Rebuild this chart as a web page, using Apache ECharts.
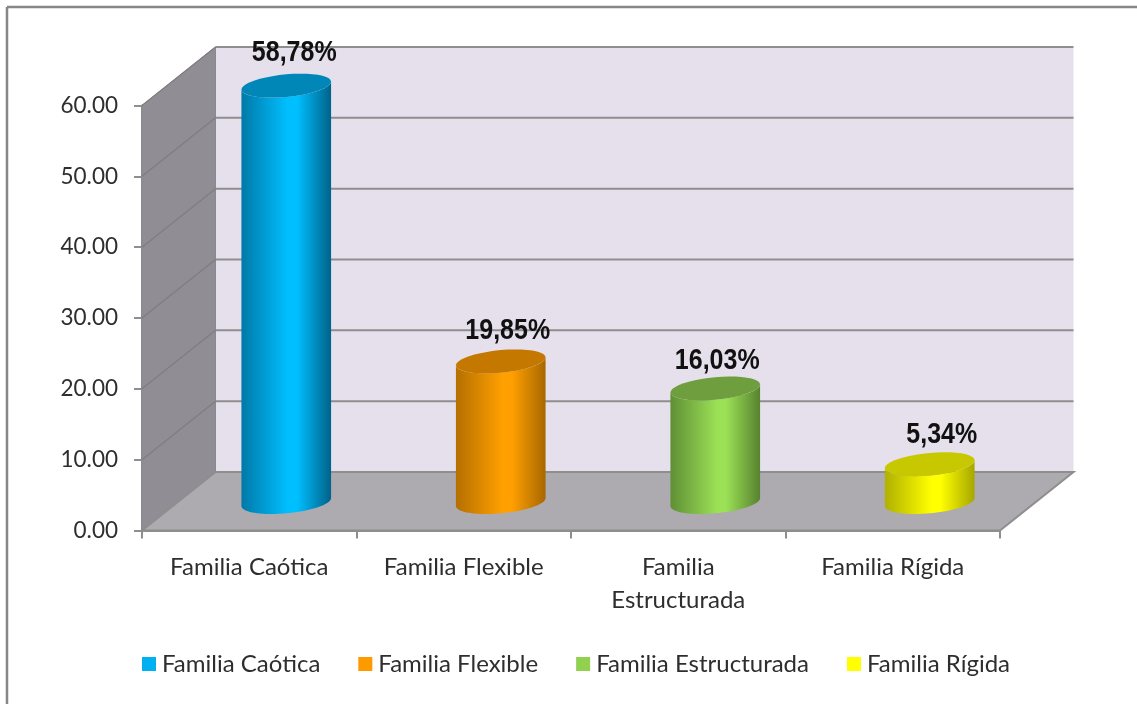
<!DOCTYPE html>
<html>
<head>
<meta charset="utf-8">
<title>Familia</title>
<script src="https://cdn.jsdelivr.net/npm/echarts@6/dist/echarts.min.js"></script>
<style>
  html, body { margin: 0; padding: 0; background: #fff; }
  #chart { width: 1137px; height: 704px; }
</style>
</head>
<body>
<div id="chart"></div>
<script>
const categories = ["Familia Caótica", "Familia Flexible", "Familia\nEstructurada", "Familia Rígida"];
const legendNames = ["Familia Caótica", "Familia Flexible", "Familia Estructurada", "Familia Rígida"];
const values = [58.78, 19.85, 16.03, 5.34];
const valueTicks = [0, 10, 20, 30, 40, 50, 60];

// body colours: edge, middle, far edge, cap, legend
const palette = [
  { left: "#0079A8", mid: "#00BFFF", right: "#00628A", cap: "#0087B8", legend: "#00B0F0" },
  { left: "#B56F00", mid: "#FFA000", right: "#A86700", cap: "#C47800", legend: "#FF9900" },
  { left: "#5F8F35", mid: "#9BE055", right: "#57822F", cap: "#6F9E3E", legend: "#92D050" },
  { left: "#B0B000", mid: "#FFFF00", right: "#A6A600", cap: "#C8C800", legend: "#FFFF00" }
];
// hand placed labels in the original, not centred on the bars
const labelShift = [[8, -32.5], [7, -30.5], [2, -27.5], [12, -29.5]];

const depthX = 73.5;
const depthY = -58.5;

const gridStroke = "#8E8E8E";

function wallsItem(params, api) {
  const o = api.coord([0, 0]);
  o[0] = params.coordSys.x;
  const top = params.coordSys.y;
  const right = params.coordSys.x + params.coordSys.width;
  const left = o[0];
  const base = o[1];
  return {
    type: "group",
    children: [
      {
        type: "polygon",
        shape: { points: [[left + depthX, top + depthY], [right + depthX, top + depthY], [right + depthX, base + depthY], [left + depthX, base + depthY]] },
        style: { fill: "#E6E0EC" }
      },
      {
        type: "polygon",
        shape: { points: [[left, top], [left + depthX, top + depthY], [left + depthX, base + depthY], [left, base]] },
        style: { fill: "#908D94", stroke: "#8A8A8A", lineWidth: 1 }
      },
      {
        type: "polygon",
        shape: { points: [[left, base], [left + depthX, base + depthY], [right + depthX, base + depthY], [right, base]] },
        style: { fill: "#ADAAB0", stroke: "#8E8E8E", lineWidth: 2 }
      }
    ]
  };
}

function gridLineItem(params, api) {
  const y = api.coord([0, api.value(0)])[1];
  const left = params.coordSys.x;
  const right = left + params.coordSys.width;
  return {
    type: "group",
    children: [
      {
        type: "line",
        shape: { x1: left + depthX, y1: y + depthY, x2: right + depthX, y2: y + depthY },
        style: { stroke: gridStroke, lineWidth: 2 }
      },
      {
        type: "line",
        shape: { x1: left, y1: y, x2: left + depthX, y2: y + depthY },
        style: { stroke: "#7F7D82", lineWidth: 1.2 }
      }
    ]
  };
}

function ellipsePoints(cx, cy, a, from, to) {
  const pts = [];
  const steps = 40;
  for (let i = 0; i <= steps; i++) {
    const t = from + (to - from) * i / steps;
    pts.push([cx + a * Math.cos(t), cy - 4 * Math.cos(t) - 11.3 * Math.sin(t)]);
  }
  return pts;
}

function cylinderItem(index) {
  return function (params, api) {
    const top = api.coord([api.value(0), api.value(1)]);
    const bottom = api.coord([api.value(0), 0]);
    const a = api.size([1, 0])[0] * 0.209;
    const cx = top[0] + 37;
    const dy = -28.5;
    const c = palette[index];
    const front = ellipsePoints(cx, bottom[1] + dy, a, Math.PI, 2 * Math.PI);
    const back = ellipsePoints(cx, top[1] + dy, a, 2 * Math.PI, Math.PI);
    return {
      type: "group",
      children: [
        {
          type: "polygon",
          shape: { points: front.concat(back) },
          style: {
            fill: new echarts.graphic.LinearGradient(0, 0, 1, 0, [
              { offset: 0, color: c.left },
              { offset: 0.52, color: c.mid },
              { offset: 0.62, color: c.mid },
              { offset: 1, color: c.right }
            ])
          }
        },
        {
          type: "polygon",
          shape: { points: ellipsePoints(cx, top[1] + dy, a, 0, 2 * Math.PI) },
          style: { fill: c.cap }
        },
        {
          type: "text",
          x: cx + labelShift[index][0],
          y: top[1] + dy + labelShift[index][1],
          scaleY: 1.15,
          style: {
            text: api.value(1).toFixed(2).replace(".", ",") + "%",
            font: "bold 25px 'Liberation Sans'",
            fill: "#111111",
            align: "center",
            verticalAlign: "middle"
          }
        }
      ]
    };
  };
}

const chart = echarts.init(document.getElementById("chart"));

const series = [
  {
    name: "walls",
    type: "custom",
    silent: true,
    z: 1,
    renderItem: wallsItem,
    data: [[0]]
  },
  {
    name: "gridlines",
    type: "custom",
    silent: true,
    z: 2,
    renderItem: gridLineItem,
    encode: { y: 0 },
    data: valueTicks.slice(1).map(v => [v])
  }
];

values.forEach((v, i) => {
  series.push({
    name: legendNames[i],
    type: "custom",
    z: 3,
    renderItem: cylinderItem(i),
    itemStyle: { color: palette[i].legend },
    encode: { x: 0, y: 1 },
    data: [[i, v]]
  });
});

chart.setOption({
  animation: false,
  backgroundColor: "#fff",
  graphic: [
    { type: "line", shape: { x1: 7, y1: 7, x2: 1137, y2: 7 }, style: { stroke: "#868686", lineWidth: 2.5 } },
    { type: "line", shape: { x1: 7, y1: 7, x2: 7, y2: 704 }, style: { stroke: "#868686", lineWidth: 2.5 } }
  ],
  grid: { left: 142, top: 105.5, width: 858, height: 425 },
  legend: {
    data: legendNames,
    left: 137,
    top: 647,
    icon: "rect",
    itemWidth: 14,
    itemHeight: 14,
    itemGap: 38,
    textStyle: { fontFamily: "Lato", fontSize: 24, color: "#2E2E2E", padding: [0, 0, 0, 1] }
  },
  xAxis: {
    type: "category",
    data: categories,
    axisLine: { lineStyle: { color: "#8E8E8E", width: 2 } },
    axisTick: { show: true, length: 8, lineStyle: { color: "#8E8E8E", width: 2 } },
    axisLabel: { interval: 0, fontFamily: "Lato", fontSize: 24, color: "#2E2E2E", margin: 20, lineHeight: 33 }
  },
  yAxis: {
    type: "value",
    min: 0,
    max: 60,
    interval: 10,
    splitLine: { show: false },
    axisLine: { show: true, lineStyle: { color: "#8E8E8E", width: 2 } },
    axisTick: { show: true, length: 8, lineStyle: { color: "#8E8E8E", width: 2 } },
    axisLabel: { fontFamily: "Lato", fontSize: 22.5, color: "#2E2E2E", margin: 24, padding: [5, 0, 0, 0], formatter: v => v.toFixed(2) }
  },
  series: series
});
</script>
</body>
</html>
